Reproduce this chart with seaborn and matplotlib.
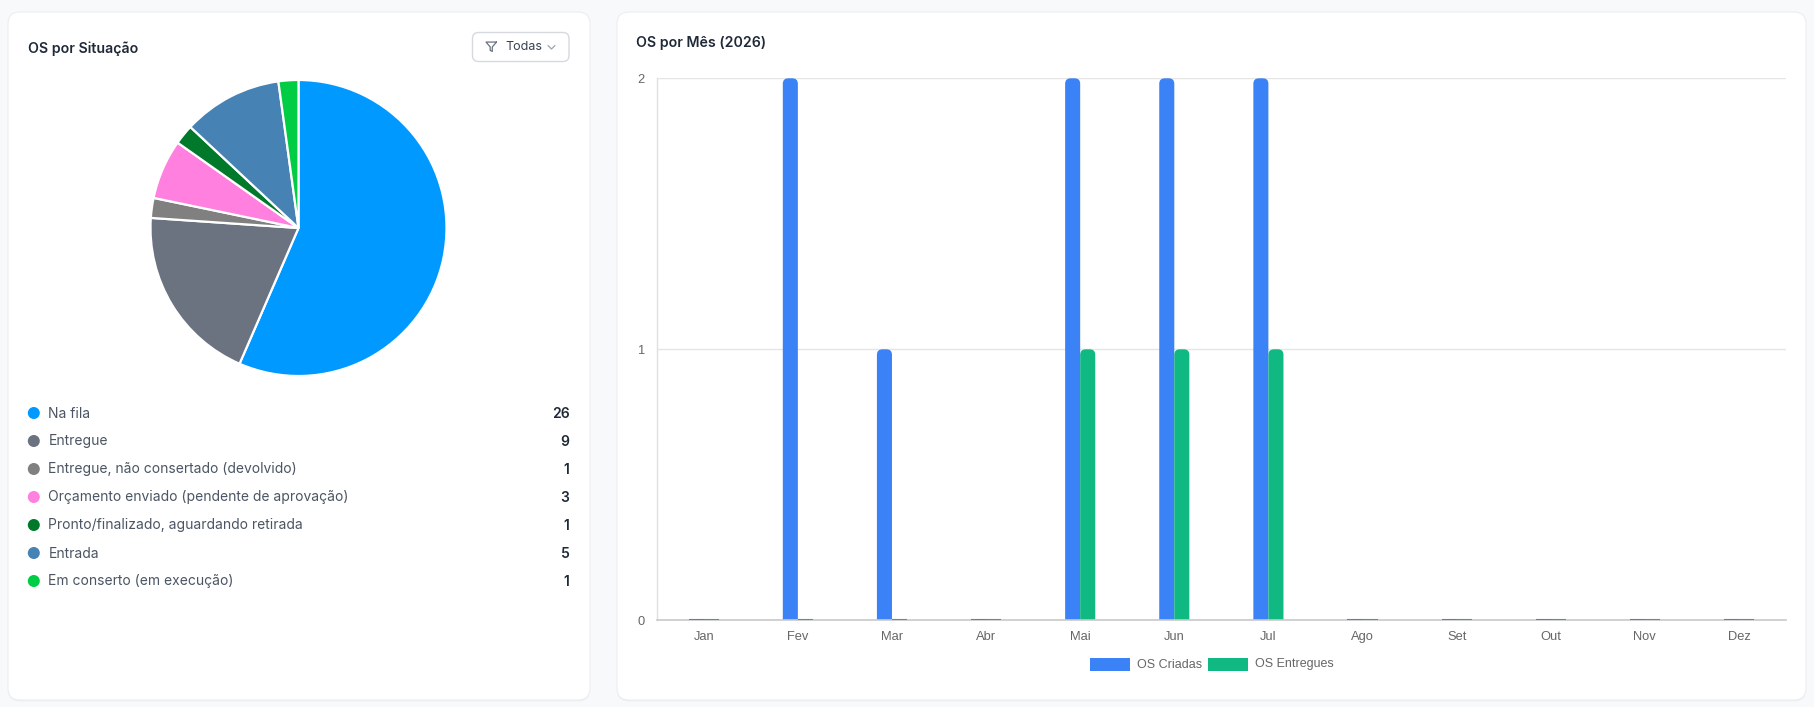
import matplotlib
matplotlib.use("Agg")
import matplotlib.pyplot as plt
import seaborn as sns
import pandas as pd
import numpy as np
from matplotlib.patches import FancyBboxPatch, Circle, Rectangle
from matplotlib.lines import Line2D

# ---------------- data ----------------
status_labels = [
    "Na fila",
    "Entregue",
    "Entregue, não consertado (devolvido)",
    "Orçamento enviado (pendente de aprovação)",
    "Pronto/finalizado, aguardando retirada",
    "Entrada",
    "Em conserto (em execução)",
]
status_values = [26, 9, 1, 3, 1, 5, 1]
status_colors = ["#0099ff", "#6b7280", "#808080", "#ff80df", "#007a2a", "#4682b4", "#00cc44"]

months = ["Jan", "Fev", "Mar", "Abr", "Mai", "Jun", "Jul", "Ago", "Set", "Out", "Nov", "Dez"]
os_criadas = [0, 2, 1, 0, 2, 2, 2, 0, 0, 0, 0, 0]
os_entregues = [0, 0, 0, 0, 1, 1, 1, 0, 0, 0, 0, 0]
series_names = ["OS Criadas", "OS Entregues"]
series_colors = ["#3b82f6", "#10b981"]
y_ticks = [0, 1, 2]

left_title = "OS por Situação"
right_title = "OS por Mês (2026)"
filter_label = "Todas"

# ---------------- figure ----------------
W, H, DPI = 1815, 707, 100
sns.set_theme(style="white")
plt.rcParams["font.family"] = ["Inter", "DejaVu Sans"]

fig = plt.figure(figsize=(W / DPI, H / DPI), dpi=DPI)
fig.patch.set_facecolor("#f8f9fb")

def px_axes(x0, y0, w, h, **kw):
    return fig.add_axes([x0 / W, 1 - (y0 + h) / H, w / W, h / H], **kw)

bg = fig.add_axes([0, 0, 1, 1], zorder=0)
bg.set_xlim(0, W)
bg.set_ylim(H, 0)
bg.axis("off")

# cards
for (x0, y0, w, h) in [(8, 12, 582, 688), (617, 12, 1189, 688)]:
    bg.add_patch(FancyBboxPatch((x0, y0 + 1.5), w, h, boxstyle="round,pad=0,rounding_size=12",
                                fc="#eef0f3", ec="none", zorder=1))
    bg.add_patch(FancyBboxPatch((x0, y0), w, h, boxstyle="round,pad=0,rounding_size=12",
                                fc="white", ec="#eceef2", lw=0.8, zorder=2))

# titles
title_kw = dict(fontsize=10.2, fontweight="semibold", color="#1f2937", va="center", ha="left", zorder=5)
bg.text(28, 48.5, left_title, **title_kw)
bg.text(636, 43, right_title, **title_kw)

# filter button
bg.add_patch(FancyBboxPatch((472.5, 32.5), 96.5, 29, boxstyle="round,pad=0,rounding_size=6",
                            fc="white", ec="#d6d9de", lw=1.0, zorder=3))
fx, fy, fs = 485, 41, 12.5
funnel = np.array([[22, 3], [2, 3], [10, 12.46], [10, 19], [14, 21], [14, 12.46], [22, 3]]) / 24.0
bg.add_line(Line2D(fx + funnel[:, 0] * fs, fy + funnel[:, 1] * fs - 0.5, color="#6b7280", lw=0.9,
                   solid_joinstyle="round", zorder=4))
bg.text(505, 47.5, filter_label, fontsize=9.0, color="#374151", va="center", ha="left", zorder=5)
bg.add_line(Line2D([548, 551.5, 555], [45.5, 49, 45.5], color="#9ca3af", lw=0.9, zorder=4))

# left legend
row_y0, row_dy = 413.5, 28
for i, (lab, val, col) in enumerate(zip(status_labels, status_values, status_colors)):
    yy = row_y0 + i * row_dy
    bg.add_patch(Circle((33.8, yy - 0.5), 6.0, fc=col, ec="none", zorder=5))
    bg.text(48.5, yy, lab, fontsize=10, color="#4b5563", va="center", ha="left", zorder=5)
    bg.text(569.5, yy, str(val), fontsize=10, fontweight="semibold", color="#1f2937",
            va="center", ha="right", zorder=5)

# ---------------- pie ----------------
cx, cy, r = 298.5, 228, 148
pax = px_axes(cx - r, cy - r, 2 * r, 2 * r, zorder=3)
wedges, _ = pax.pie(status_values, colors=status_colors, startangle=90, counterclock=False,
                    wedgeprops=dict(edgecolor="white", linewidth=1.6))
pax.set_xlim(-1, 1)
pax.set_ylim(-1, 1)
pax.set_aspect("equal")
pax.axis("off")
for wdg in wedges:
    wdg.set_clip_on(False)

# ---------------- bar chart ----------------
ax_x0, ax_y0, ax_x1, ax_y1 = 656.7, 78.3, 1786, 620.3
ax = px_axes(ax_x0, ax_y0, ax_x1 - ax_x0, ax_y1 - ax_y0, zorder=3)
ax.set_facecolor("none")

df = pd.DataFrame({
    "Mês": months * 2,
    "Qtd": os_criadas + os_entregues,
    "Série": [series_names[0]] * len(months) + [series_names[1]] * len(months),
})
sns.barplot(data=df, x="Mês", y="Qtd", hue="Série", order=months, hue_order=series_names,
            palette=series_colors, saturation=1, width=0.32, legend=False, ax=ax, zorder=3)

ax.set_xlim(-0.5, len(months) - 0.5)
ax.set_ylim(0, max(y_ticks))
ax.set_yticks(y_ticks)
ax.set_xlabel("")
ax.set_ylabel("")

# rounded top corners, derived from the bars seaborn drew
xpp = (len(months)) / (ax_x1 - ax_x0)
ypp = max(y_ticks) / (ax_y1 - ax_y0)
rad_px = 5.5
for p in list(ax.patches):
    col = p.get_facecolor()
    x, w, h = p.get_x(), p.get_width(), p.get_height()
    if h > 0:
        p.set_visible(False)
        ext = rad_px * ypp * 1.2
        rb = FancyBboxPatch((x, -ext), w, h + ext,
                            boxstyle=f"round,pad=0,rounding_size={rad_px * xpp}",
                            mutation_aspect=ypp / xpp, fc=col, ec="none", zorder=3)
        ax.add_patch(rb)
    else:
        p.set_edgecolor(col)
        p.set_linewidth(1.5)
        p.set_zorder(6)

ax.yaxis.grid(True, color="#e5e5e5", lw=1, zorder=0)
ax.xaxis.grid(False)
ax.set_axisbelow(True)
for s in ["top", "right"]:
    ax.spines[s].set_visible(False)
ax.spines["left"].set_color("#e0e0e0")
ax.spines["left"].set_linewidth(1)
ax.spines["bottom"].set_color("#c9c9c9")
ax.spines["bottom"].set_linewidth(1.2)
ax.spines["bottom"].set_zorder(5)
ax.tick_params(axis="y", length=6, width=1, color="#e5e5e5", pad=2.5,
               labelsize=9.3, labelcolor="#666666")
ax.tick_params(axis="x", length=0, pad=8, labelsize=9.3, labelcolor="#666666")
for t in ax.get_xticklabels() + ax.get_yticklabels():
    t.set_fontfamily(["Liberation Sans", "DejaVu Sans"])

# chart legend
lx = [1090, 1208.5]
for name, col, x0 in zip(series_names, series_colors, lx):
    bg.add_patch(Rectangle((x0, 658), 40, 12.5, fc=col, ec="none", zorder=5))
    bg.text(x0 + 47, 664.5, name, fontsize=9.0, color="#666666", va="center", ha="left",
            family=["Liberation Sans", "DejaVu Sans"], zorder=5)

fig.savefig("out.png", dpi=DPI, facecolor=fig.get_facecolor())
